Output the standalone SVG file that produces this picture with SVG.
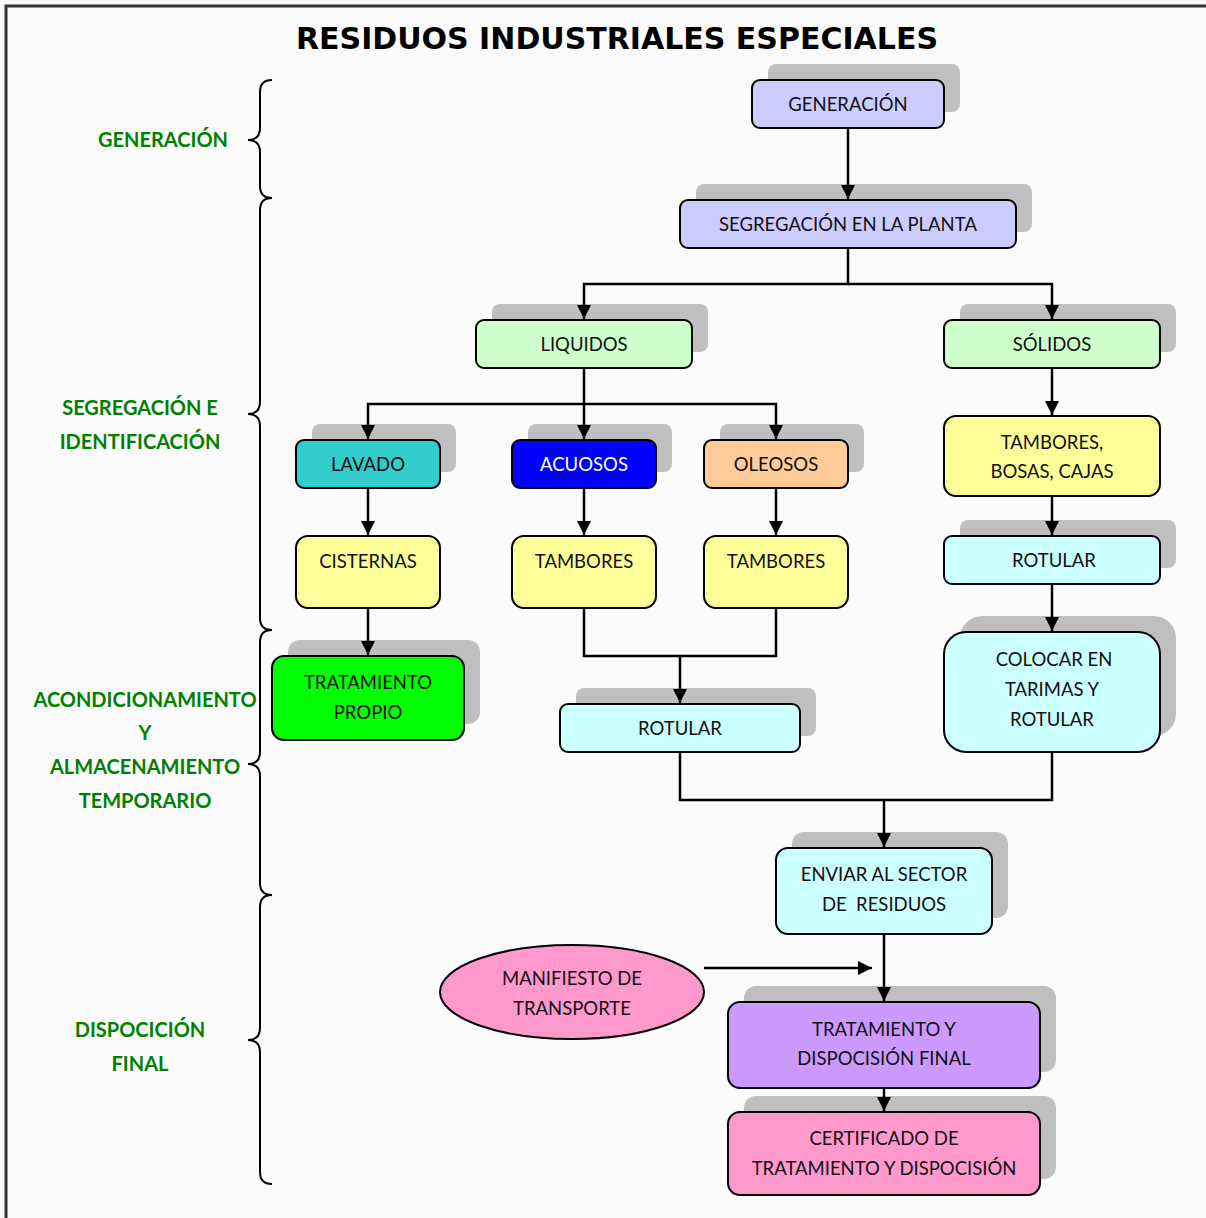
<svg xmlns="http://www.w3.org/2000/svg" width="1206" height="1218" viewBox="0 0 1206 1218">
<defs>
<marker id="ah" viewBox="0 0 10 10" refX="10" refY="5" markerWidth="14" markerHeight="14" markerUnits="userSpaceOnUse" orient="auto">
<path d="M0,0 L10,5 L0,10 z" fill="#000"/>
</marker>
<style>
.sh{fill:#bfbfbf}
.bx{stroke:#000;stroke-width:2}
.t{font-family:Lato,"Open Sans","Liberation Sans",sans-serif;font-size:18.5px;fill:#111;text-anchor:middle}
.g{font-family:Lato,"Open Sans","Liberation Sans",sans-serif;font-size:20px;font-weight:bold;fill:#008000;text-anchor:middle}
.c{fill:none;stroke:#000;stroke-width:2.5}
.br{fill:none;stroke:#000;stroke-width:2}
</style>
</defs>
<rect x="0" y="0" width="1206" height="1218" fill="#fbfbfb"/>
<path d="M6,1218 V6 H1206" fill="none" stroke="#333" stroke-width="3"/>
<text x="617" y="49" font-family="'DejaVu Sans',sans-serif" font-size="30" font-weight="bold" text-anchor="middle" fill="#000">RESIDUOS INDUSTRIALES ESPECIALES</text>

<g id="braces">
<path class="br" d="M272,80 Q260,80 260,92 V128 Q260,140 248,140 Q260,140 260,152 V186 Q260,198 272,198"/>
<path class="br" d="M272,198 Q260,198 260,210 V402 Q260,414 248,414 Q260,414 260,426 V618 Q260,630 272,630"/>
<path class="br" d="M272,630 Q260,630 260,642 V752 Q260,764 248,764 Q260,764 260,776 V883 Q260,895 272,895"/>
<path class="br" d="M272,895 Q260,895 260,907 V1028 Q260,1040 248,1040 Q260,1040 260,1052 V1172 Q260,1184 272,1184"/>
</g>
<g id="phase-labels">
<text class="g" x="163" y="147">GENERACIÓN</text>
<text class="g" x="140" y="415">SEGREGACIÓN E</text>
<text class="g" x="140" y="449">IDENTIFICACIÓN</text>
<text class="g" x="145" y="707">ACONDICIONAMIENTO</text>
<text class="g" x="145" y="740">Y</text>
<text class="g" x="145" y="774">ALMACENAMIENTO</text>
<text class="g" x="145" y="808">TEMPORARIO</text>
<text class="g" x="140" y="1037">DISPOCICIÓN</text>
<text class="g" x="140" y="1071">FINAL</text>
</g>

<g id="n-generacion">
<rect class="sh" x="768" y="64" width="192" height="48" rx="8"/>
<rect class="bx" x="752" y="80" width="192" height="48" rx="8" fill="#ccccff"/>
<text class="t" x="848" y="111">GENERACIÓN</text>
</g>
<g id="n-segregacion">
<rect class="sh" x="696" y="184" width="336" height="48" rx="8"/>
<rect class="bx" x="680" y="200" width="336" height="48" rx="8" fill="#ccccff"/>
<text class="t" x="848" y="231">SEGREGACIÓN EN LA PLANTA</text>
</g>
<g id="n-liquidos">
<rect class="sh" x="492" y="304" width="216" height="48" rx="8"/>
<rect class="bx" x="476" y="320" width="216" height="48" rx="8" fill="#ccffcc"/>
<text class="t" x="584" y="351">LIQUIDOS</text>
</g>
<g id="n-solidos">
<rect class="sh" x="960" y="304" width="216" height="48" rx="8"/>
<rect class="bx" x="944" y="320" width="216" height="48" rx="8" fill="#ccffcc"/>
<text class="t" x="1052" y="351">SÓLIDOS</text>
</g>
<g id="n-lavado">
<rect class="sh" x="312" y="424" width="144" height="48" rx="8"/>
<rect class="bx" x="296" y="440" width="144" height="48" rx="8" fill="#33cccc"/>
<text class="t" x="368" y="471">LAVADO</text>
</g>
<g id="n-acuosos">
<rect class="sh" x="528" y="424" width="144" height="48" rx="8"/>
<rect class="bx" x="512" y="440" width="144" height="48" rx="8" fill="#0000ff"/>
<text class="t" x="584" y="471" style="fill:#fff">ACUOSOS</text>
</g>
<g id="n-oleosos">
<rect class="sh" x="720" y="424" width="144" height="48" rx="8"/>
<rect class="bx" x="704" y="440" width="144" height="48" rx="8" fill="#ffcc99"/>
<text class="t" x="776" y="471">OLEOSOS</text>
</g>
<g id="n-tambores-bosas">
<rect class="bx" x="944" y="416" width="216" height="80" rx="12" fill="#ffff99"/>
<text class="t" x="1052" y="449">TAMBORES,</text>
<text class="t" x="1052" y="478">BOSAS, CAJAS</text>
</g>
<g id="n-cisternas">
<rect class="bx" x="296" y="536" width="144" height="72" rx="12" fill="#ffff99"/>
<text class="t" x="368" y="568">CISTERNAS</text>
</g>
<g id="n-tambores-1">
<rect class="bx" x="512" y="536" width="144" height="72" rx="12" fill="#ffff99"/>
<text class="t" x="584" y="568">TAMBORES</text>
</g>
<g id="n-tambores-2">
<rect class="bx" x="704" y="536" width="144" height="72" rx="12" fill="#ffff99"/>
<text class="t" x="776" y="568">TAMBORES</text>
</g>
<g id="n-rotular-solidos">
<rect class="sh" x="960" y="520" width="216" height="48" rx="8"/>
<rect class="bx" x="944" y="536" width="216" height="48" rx="8" fill="#ccffff"/>
<text class="t" x="1054" y="567">ROTULAR</text>
</g>
<g id="n-colocar">
<rect class="sh" x="960" y="616" width="216" height="120" rx="22"/>
<rect class="bx" x="944" y="632" width="216" height="120" rx="22" fill="#ccffff"/>
<text class="t" x="1054" y="666">COLOCAR EN</text>
<text class="t" x="1052" y="696">TARIMAS Y</text>
<text class="t" x="1052" y="726">ROTULAR</text>
</g>
<g id="n-tratamiento-propio">
<rect class="sh" x="288" y="640" width="192" height="84" rx="12"/>
<rect class="bx" x="272" y="656" width="192" height="84" rx="12" fill="#00ff00"/>
<text class="t" x="368" y="689">TRATAMIENTO</text>
<text class="t" x="368" y="719">PROPIO</text>
</g>
<g id="n-rotular-liquidos">
<rect class="sh" x="576" y="688" width="240" height="48" rx="8"/>
<rect class="bx" x="560" y="704" width="240" height="48" rx="8" fill="#ccffff"/>
<text class="t" x="680" y="735">ROTULAR</text>
</g>
<g id="n-enviar">
<rect class="sh" x="792" y="832" width="216" height="86" rx="12"/>
<rect class="bx" x="776" y="848" width="216" height="86" rx="12" fill="#ccffff"/>
<text class="t" x="884" y="881">ENVIAR AL SECTOR</text>
<text class="t" x="884" y="911" xml:space="preserve">DE  RESIDUOS</text>
</g>
<g id="n-manifiesto">
<ellipse class="bx" cx="572" cy="992" rx="132" ry="47" fill="#ff99cc"/>
<text class="t" x="572" y="985">MANIFIESTO DE</text>
<text class="t" x="572" y="1015">TRANSPORTE</text>
</g>
<g id="n-tratamiento-final">
<rect class="sh" x="744" y="986" width="312" height="86" rx="12"/>
<rect class="bx" x="728" y="1002" width="312" height="86" rx="12" fill="#cc99ff"/>
<text class="t" x="884" y="1036">TRATAMIENTO Y</text>
<text class="t" x="884" y="1065">DISPOCISIÓN FINAL</text>
</g>
<g id="n-certificado">
<rect class="sh" x="744" y="1096" width="312" height="83" rx="12"/>
<rect class="bx" x="728" y="1112" width="312" height="83" rx="12" fill="#ff99cc"/>
<text class="t" x="884" y="1145">CERTIFICADO DE</text>
<text class="t" x="884" y="1175">TRATAMIENTO Y DISPOCISIÓN</text>
</g>

<g id="connectors">
<line class="c" x1="848" y1="129" x2="848" y2="199" marker-end="url(#ah)"/>
<polyline class="c" points="848,249 848,284 584,284 584,319" marker-end="url(#ah)"/>
<polyline class="c" points="848,284 1052,284 1052,319" marker-end="url(#ah)"/>
<polyline class="c" points="584,369 584,404 368,404 368,439" marker-end="url(#ah)"/>
<line class="c" x1="584" y1="404" x2="584" y2="439" marker-end="url(#ah)"/>
<polyline class="c" points="584,404 776,404 776,439" marker-end="url(#ah)"/>
<line class="c" x1="368" y1="489" x2="368" y2="535" marker-end="url(#ah)"/>
<line class="c" x1="584" y1="489" x2="584" y2="535" marker-end="url(#ah)"/>
<line class="c" x1="776" y1="489" x2="776" y2="535" marker-end="url(#ah)"/>
<line class="c" x1="1052" y1="369" x2="1052" y2="415" marker-end="url(#ah)"/>
<line class="c" x1="1052" y1="497" x2="1052" y2="535" marker-end="url(#ah)"/>
<line class="c" x1="1052" y1="585" x2="1052" y2="631" marker-end="url(#ah)"/>
<line class="c" x1="368" y1="609" x2="368" y2="655" marker-end="url(#ah)"/>
<polyline class="c" points="584,609 584,656 776,656 776,609"/>
<line class="c" x1="680" y1="656" x2="680" y2="703" marker-end="url(#ah)"/>
<polyline class="c" points="680,753 680,800 1052,800 1052,753"/>
<line class="c" x1="884" y1="800" x2="884" y2="847" marker-end="url(#ah)"/>
<line class="c" x1="884" y1="935" x2="884" y2="1001" marker-end="url(#ah)"/>
<line class="c" x1="704" y1="968" x2="872" y2="968" marker-end="url(#ah)"/>
<line class="c" x1="884" y1="1089" x2="884" y2="1111" marker-end="url(#ah)"/>
</g>
</svg>
